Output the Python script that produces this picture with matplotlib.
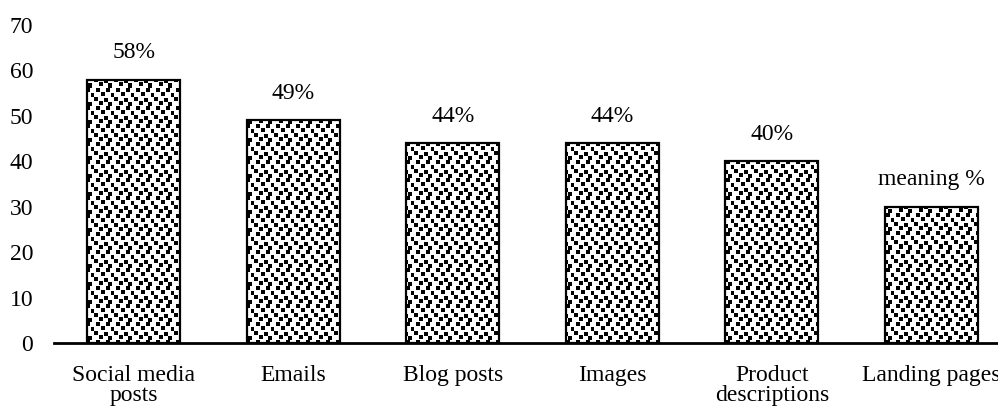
import numpy as np
import matplotlib.pyplot as plt

plt.rcParams['font.family'] = ['Liberation Serif', 'DejaVu Serif']

categories = ["Social media\nposts", "Emails", "Blog posts", "Images", "Product\ndescriptions", "Landing pages"]
values = [58, 49, 44, 44, 40, 30]
bar_labels = ["58%", "49%", "44%", "44%", "40%", "meaning %"]

W, H = 998, 409
fig = plt.figure(figsize=(W / 100, H / 100), dpi=100)
# axes runs a bit past the right edge, like the original crop
ax_l, ax_b, ax_w, ax_h = 54, 66, 957, 318
ax = fig.add_axes([ax_l / W, ax_b / H, ax_w / W, ax_h / H])

# confetti-like fill pattern, one screen pixel per cell
tile = np.ones((18, 20))
for (cx, cy) in [(0, 0), (10, 1), (5, 4), (14, 5), (2, 9), (12, 9), (7, 13), (17, 14)]:
    tile[cy:cy + 4, cx:cx + 4] = 0
pattern = np.tile(tile, (ax_h // 18 + 1, ax_w // 20 + 1))[:ax_h, :ax_w]

x = np.arange(len(categories))
bars = ax.bar(x, values, width=0.58, facecolor='none', edgecolor='black',
              linewidth=1.6, zorder=3)

for b in bars:
    im = ax.imshow(pattern, cmap='gray', vmin=0, vmax=1, extent=(-0.5, 5.5, 0, 70),
                   aspect='auto', interpolation='nearest', zorder=2)
    im.set_clip_path(b)

for i, b in enumerate(bars):
    ax.text(b.get_x() + b.get_width() / 2, values[i] + 3.6, bar_labels[i],
            ha='center', va='bottom', fontsize=17)

ax.set_xlim(-0.5, 5.5)
ax.set_ylim(0, 70)
ax.set_yticks(range(0, 71, 10))
ax.set_xticks(x)
ax.set_xticklabels(categories, fontsize=17, linespacing=0.92)
ax.tick_params(axis='y', labelsize=17, length=0, pad=15)
ax.tick_params(axis='x', length=0, pad=16)

for s in ['top', 'right', 'left']:
    ax.spines[s].set_visible(False)
ax.spines['bottom'].set_linewidth(2)
ax.spines['bottom'].set_zorder(4)

plt.savefig("out.png", dpi=100)
